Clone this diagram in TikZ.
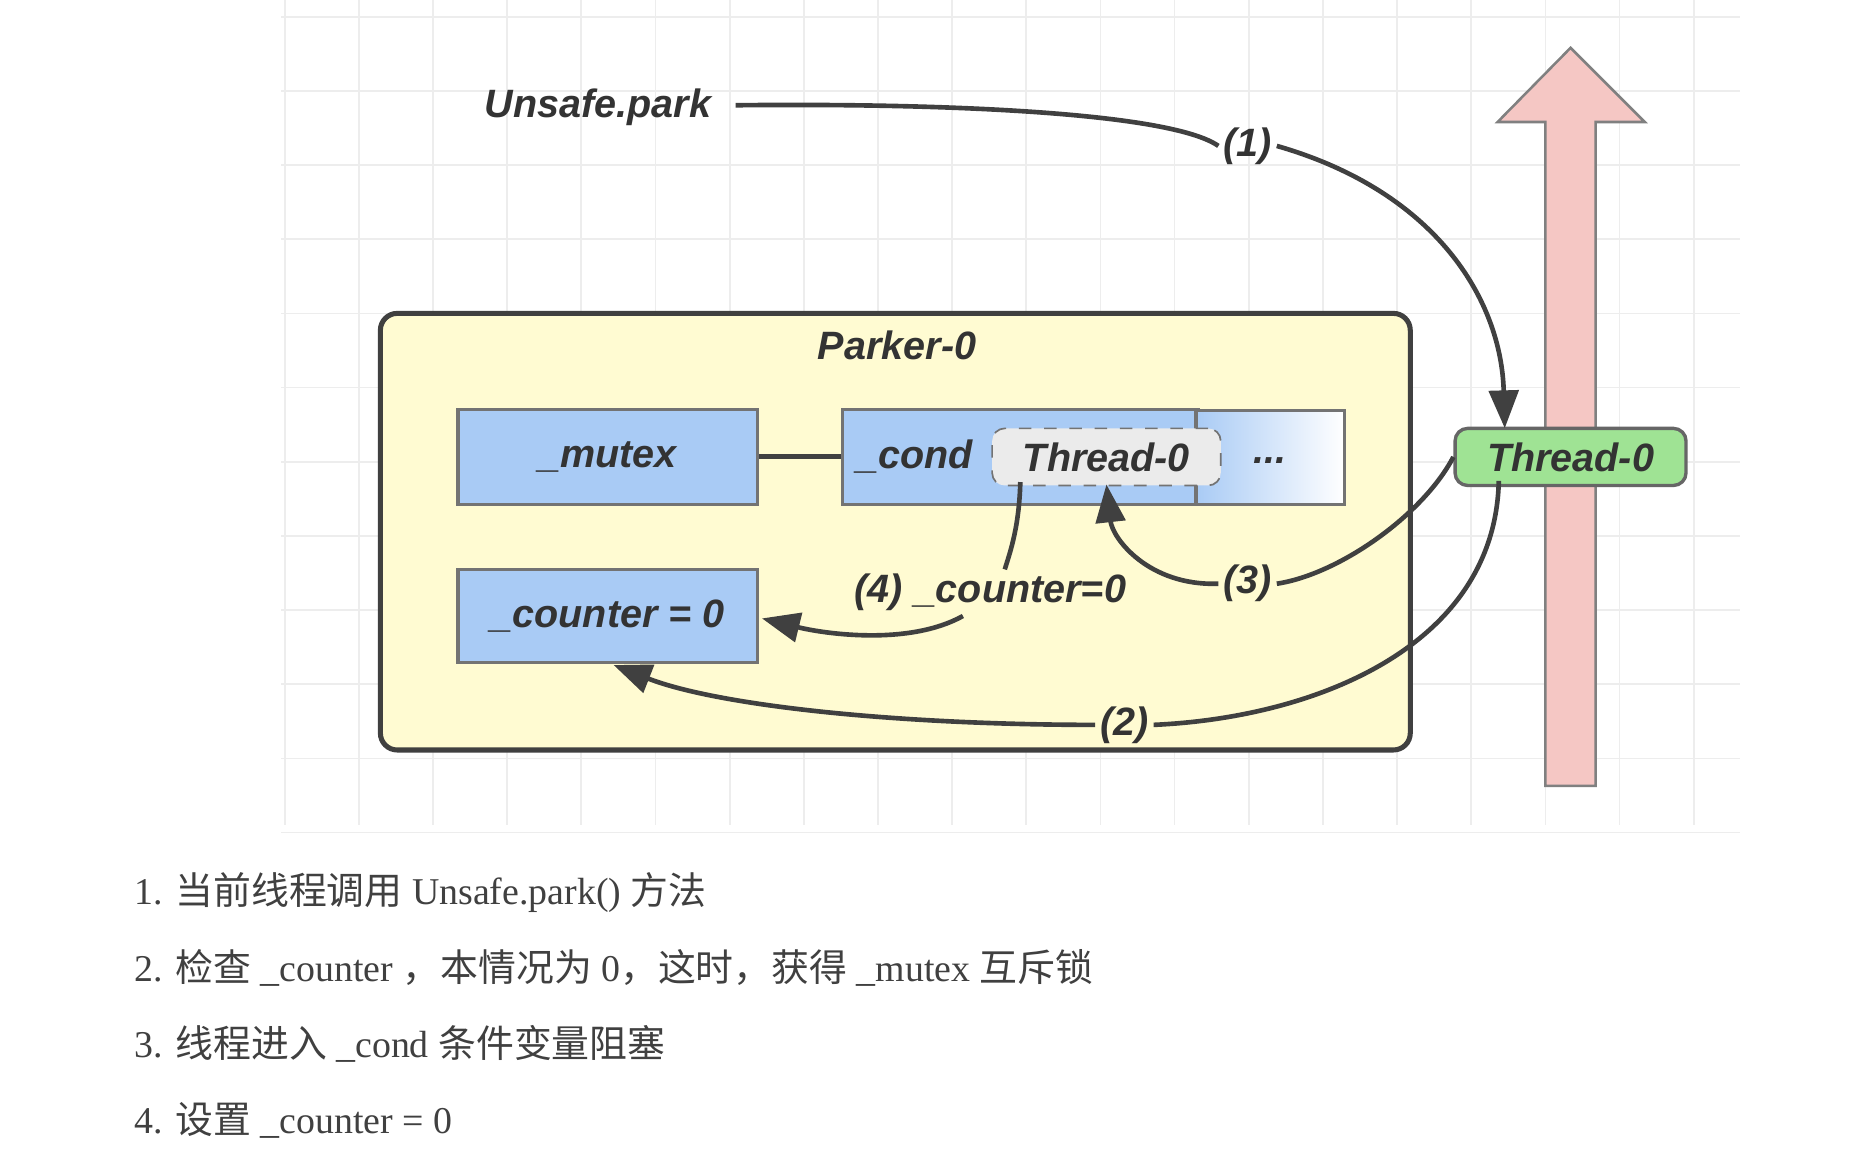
\documentclass[tikz,border=0pt]{standalone}
\usepackage{fontspec}
\setmainfont{Liberation Serif}
\newfontfamily\cjk{Noto Sans CJK SC}
\newfontfamily\dg{Liberation Sans}
\usetikzlibrary{arrows.meta}
\definecolor{blu}{HTML}{A9CBF5}
\definecolor{yel}{HTML}{FFFBD2}
\definecolor{grn}{HTML}{9FE394}
\definecolor{pnk}{HTML}{F5C7C4}
\begin{document}
\begin{tikzpicture}[x=0.01cm,y=-0.01cm,
 box/.style={draw=black!55,line width=0.8pt,fill=blu},
 lbl/.style={font=\dg\bfseries\itshape\fontsize{9.4}{11}\selectfont,text=black!80},
 arr/.style={draw=black!75,line width=1.1pt,-{Triangle[length=9pt,width=7pt]}},
 lst/.style={anchor=west,font=\fontsize{9}{11}\selectfont,text=black!75}]
\useasboundingbox (0,0) rectangle (1560,973);
\fill[white] (0,0) rectangle (1560,973);
\foreach \i in {0,...,19} {\draw[black!7,line width=0.4pt] (238+62*\i,0) -- (238+62*\i,690);}
\foreach \j in {0,...,11} {\draw[black!7,line width=0.4pt] (235,14+62*\j) -- (1455,14+62*\j);}
% big arrow
\fill[pnk] (1292,657) -- (1292,102) -- (1252,102) -- (1313,40) -- (1375,102) -- (1334,102) -- (1334,657) -- cycle;
\draw[black!50,line width=0.6pt] (1292,657) -- (1292,102) -- (1252,102) -- (1313,40) -- (1375,102) -- (1334,102) -- (1334,657) -- cycle;
% parker
\draw[black!75,line width=1.2pt,fill=yel,rounded corners=4pt] (318,262) rectangle (1179,627);
\node[lbl] (pk) at (750,289) {Parker-0};
\node[box,minimum width=2.5cm,minimum height=0.79cm,lbl] (mutex) at (508,382) {\_mutex};
\node[box,minimum width=2.94cm,minimum height=0.79cm,lbl,text width=2.74cm,align=left] (cond) at (853,382) {\_cond};
\shade[left color=blu,right color=white] (1000,343) rectangle (1124,422);
\draw[black!55,line width=0.8pt] (1000,343) rectangle (1124,422);
\node[lbl] (dots) at (1062,385) {...};
\node[draw=black!55,dashed,fill=black!8,rounded corners=3pt,minimum width=1.91cm,minimum height=0.41cm,lbl] (t0) at (925,382) {Thread-0};
\node[box,minimum width=2.5cm,minimum height=0.78cm,lbl] (counter) at (508,515) {\_counter = 0};
\draw[black!75,line width=1.2pt] (mutex.east) -- (cond.west);
\node[draw=black!60,line width=0.8pt,fill=grn,rounded corners=3pt,minimum width=1.93cm,minimum height=0.4cm,lbl] (thr) at (1313,382) {Thread-0};
\node[lbl] (up) at (500,90) {Unsafe.park};
% arrows
\coordinate (s1) at (615,88);
\node[lbl,inner sep=1pt] (l1) at (1043,122) {(1)};
\draw[arr] (s1) .. controls (800,86) and (980,95) .. (l1.west) (l1.east) .. controls (1200,160) and (1255,250) .. (1258,358);
\node[lbl,inner sep=1pt] (l2) at (940,606) {(2)};
\draw[black!75,line width=1.1pt] (1253,402) .. controls (1250,540) and (1100,600) .. (l2.east);
\draw[arr] (l2.west) .. controls (750,606) and (600,590) .. (513,556);
\node[lbl,inner sep=1pt] (l3) at (1043,488) {(3)};
\draw[black!75,line width=1.1pt] (thr.west) .. controls (1190,430) and (1120,480) .. (l3.east);
\draw[arr] (l3.west) .. controls (960,490) and (930,450) .. (925,405);
\node[lbl,inner sep=1pt] (l4) at (828,495) {(4) \_counter=0};
\draw[black!75,line width=1.1pt] (853,403) .. controls (852,440) and (845,460) .. (840,476);
\draw[arr] (805,515) .. controls (760,540) and (690,530) .. (637,517);
% list
\node[lst] (i1) at (100,746) {1. {\cjk 当前线程调用} Unsafe.park() {\cjk 方法}};
\node[lst] (i2) at (100,809) {2. {\cjk 检查} \_counter {\cjk ，本情况为} 0{\cjk ，这时，获得} \_mutex {\cjk 互斥锁}};
\node[lst] (i3) at (100,873) {3. {\cjk 线程进入} \_cond {\cjk 条件变量阻塞}};
\node[lst] (i4) at (100,937) {4. {\cjk 设置} \_counter = 0};
\end{tikzpicture}
\end{document}
